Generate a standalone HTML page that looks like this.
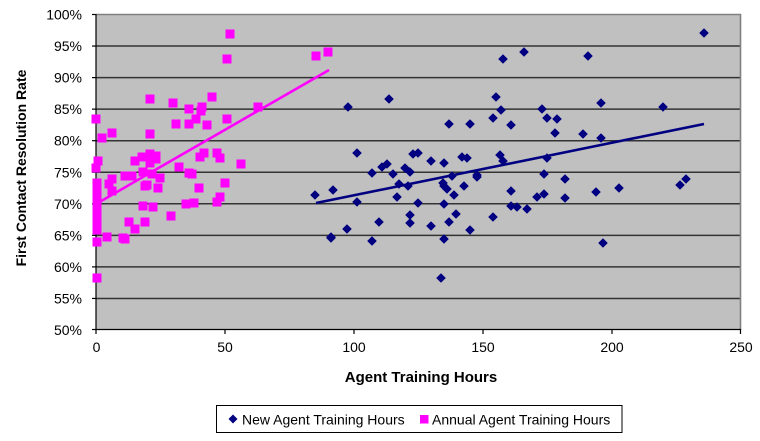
<!DOCTYPE html>
<html><head><meta charset="utf-8"><style>
html,body{margin:0;padding:0;background:#fff;}
svg{display:block;font-family:"Liberation Sans",Arial,sans-serif;}
</style></head><body>
<svg width="760" height="441" viewBox="0 0 760 441" xmlns="http://www.w3.org/2000/svg">
<defs>
<path id="d" d="M0,-4.8 L4.8,0 L0,4.8 L-4.8,0 Z" fill="#000080"/>
<rect id="s" x="-4.5" y="-4.5" width="9" height="9" fill="#FF00FF"/>
</defs>
<rect x="96" y="14.5" width="644.5" height="315.5" fill="#C0C0C0"/>
<g stroke="#333" stroke-width="1.5">
<line x1="96" x2="740" y1="46.05" y2="46.05"/>
<line x1="96" x2="740" y1="77.6" y2="77.6"/>
<line x1="96" x2="740" y1="109.15" y2="109.15"/>
<line x1="96" x2="740" y1="140.7" y2="140.7"/>
<line x1="96" x2="740" y1="172.25" y2="172.25"/>
<line x1="96" x2="740" y1="203.8" y2="203.8"/>
<line x1="96" x2="740" y1="235.35" y2="235.35"/>
<line x1="96" x2="740" y1="266.9" y2="266.9"/>
<line x1="96" x2="740" y1="298.45" y2="298.45"/>
</g>
<line x1="96" x2="741" y1="14.5" y2="14.5" stroke="#808080" stroke-width="1.6"/>
<line x1="740.5" x2="740.5" y1="14" y2="330" stroke="#808080" stroke-width="1.6"/>
<g stroke="#000" stroke-width="1.2">
<line x1="96" x2="96" y1="14" y2="330"/>
<line x1="96" x2="741" y1="329.5" y2="329.5"/>
<line x1="92" x2="96" y1="14.5" y2="14.5"/>
<line x1="92" x2="96" y1="46.05" y2="46.05"/>
<line x1="92" x2="96" y1="77.6" y2="77.6"/>
<line x1="92" x2="96" y1="109.15" y2="109.15"/>
<line x1="92" x2="96" y1="140.7" y2="140.7"/>
<line x1="92" x2="96" y1="172.25" y2="172.25"/>
<line x1="92" x2="96" y1="203.8" y2="203.8"/>
<line x1="92" x2="96" y1="235.35" y2="235.35"/>
<line x1="92" x2="96" y1="266.9" y2="266.9"/>
<line x1="92" x2="96" y1="298.45" y2="298.45"/>
<line x1="92" x2="96" y1="329.5" y2="329.5"/>
<line x1="96" x2="96" y1="329" y2="334"/>
<line x1="225" x2="225" y1="329" y2="334"/>
<line x1="354" x2="354" y1="329" y2="334"/>
<line x1="483" x2="483" y1="329" y2="334"/>
<line x1="612" x2="612" y1="329" y2="334"/>
<line x1="740.5" x2="740.5" y1="329" y2="334"/>
</g>
<g font-size="14" fill="#000" text-anchor="end">
<text x="82" y="19.5">100%</text>
<text x="82" y="51">95%</text>
<text x="82" y="82.6">90%</text>
<text x="82" y="114.2">85%</text>
<text x="82" y="145.7">80%</text>
<text x="82" y="177.3">75%</text>
<text x="82" y="208.8">70%</text>
<text x="82" y="240.4">65%</text>
<text x="82" y="271.9">60%</text>
<text x="82" y="303.5">55%</text>
<text x="82" y="335">50%</text>
</g>
<g font-size="14" fill="#000" text-anchor="middle">
<text x="96.5" y="352">0</text>
<text x="225" y="352">50</text>
<text x="354" y="352">100</text>
<text x="483" y="352">150</text>
<text x="612" y="352">200</text>
<text x="741" y="352">250</text>
</g>
<text x="421" y="382" font-size="15" font-weight="bold" text-anchor="middle">Agent Training Hours</text>
<text transform="translate(26,168) rotate(-90)" font-size="14" font-weight="bold" text-anchor="middle">First Contact Resolution Rate</text>

<g>
<use href="#d" x="704" y="33"/><use href="#d" x="503" y="59"/><use href="#d" x="524" y="52"/><use href="#d" x="588" y="56"/>
<use href="#d" x="389" y="99"/><use href="#d" x="348" y="107"/><use href="#d" x="496" y="97"/><use href="#d" x="501" y="110"/>
<use href="#d" x="493" y="118"/><use href="#d" x="511" y="125"/><use href="#d" x="449" y="124"/><use href="#d" x="470" y="124"/>
<use href="#d" x="542" y="109"/><use href="#d" x="547" y="118"/><use href="#d" x="557" y="119"/><use href="#d" x="555" y="133"/>
<use href="#d" x="583" y="134"/><use href="#d" x="601" y="103"/><use href="#d" x="601" y="138"/><use href="#d" x="663" y="107"/>
<use href="#d" x="357" y="153"/><use href="#d" x="372" y="173"/><use href="#d" x="382" y="167"/><use href="#d" x="387" y="164"/>
<use href="#d" x="393" y="174"/><use href="#d" x="405" y="168"/><use href="#d" x="410" y="172"/><use href="#d" x="413" y="154"/>
<use href="#d" x="418" y="153"/><use href="#d" x="431" y="161"/><use href="#d" x="444" y="163"/><use href="#d" x="452" y="176"/>
<use href="#d" x="462" y="157"/><use href="#d" x="467" y="158"/><use href="#d" x="477" y="175"/><use href="#d" x="477" y="177"/>
<use href="#d" x="500" y="155"/><use href="#d" x="503" y="161"/><use href="#d" x="547" y="158"/><use href="#d" x="544" y="174"/>
<use href="#d" x="565" y="179"/><use href="#d" x="680" y="185"/><use href="#d" x="686" y="179"/><use href="#d" x="315" y="195"/>
<use href="#d" x="333" y="190"/><use href="#d" x="399" y="184"/><use href="#d" x="408" y="186"/><use href="#d" x="397" y="197"/>
<use href="#d" x="443" y="183"/><use href="#d" x="444" y="186"/><use href="#d" x="447" y="189"/><use href="#d" x="454" y="195"/>
<use href="#d" x="464" y="186"/><use href="#d" x="511" y="191"/><use href="#d" x="537" y="197"/><use href="#d" x="544" y="194"/>
<use href="#d" x="565" y="198"/><use href="#d" x="596" y="192"/><use href="#d" x="619" y="188"/><use href="#d" x="357" y="202"/>
<use href="#d" x="331" y="237"/><use href="#d" x="331" y="238"/><use href="#d" x="347" y="229"/><use href="#d" x="379" y="222"/>
<use href="#d" x="372" y="241"/><use href="#d" x="418" y="203"/><use href="#d" x="410" y="215"/><use href="#d" x="410" y="223"/>
<use href="#d" x="431" y="226"/><use href="#d" x="444" y="204"/><use href="#d" x="456" y="214"/><use href="#d" x="449" y="222"/>
<use href="#d" x="444" y="239"/><use href="#d" x="470" y="230"/><use href="#d" x="441" y="278"/><use href="#d" x="493" y="217"/>
<use href="#d" x="511" y="206"/><use href="#d" x="517" y="207"/><use href="#d" x="527" y="209"/><use href="#d" x="603" y="243"/>
</g>
<line x1="316" y1="203" x2="704" y2="124" stroke="#000080" stroke-width="2.6"/>

<g>
<use href="#s" x="230" y="34"/><use href="#s" x="227" y="59"/><use href="#s" x="96" y="119"/><use href="#s" x="102" y="138"/>
<use href="#s" x="112" y="133"/><use href="#s" x="150" y="99"/><use href="#s" x="173" y="103"/><use href="#s" x="176" y="124"/>
<use href="#s" x="189" y="109"/><use href="#s" x="189" y="124"/><use href="#s" x="202" y="107"/><use href="#s" x="201" y="111"/>
<use href="#s" x="196" y="119"/><use href="#s" x="207" y="125"/><use href="#s" x="212" y="97"/><use href="#s" x="227" y="119"/>
<use href="#s" x="258" y="107"/><use href="#s" x="150" y="134"/><use href="#s" x="98" y="161"/><use href="#s" x="96" y="168"/>
<use href="#s" x="135" y="161"/><use href="#s" x="142" y="157"/><use href="#s" x="150" y="154"/><use href="#s" x="156" y="156"/>
<use href="#s" x="156" y="159"/><use href="#s" x="150" y="163"/><use href="#s" x="125" y="176"/><use href="#s" x="132" y="176"/>
<use href="#s" x="143" y="172"/><use href="#s" x="152" y="174"/><use href="#s" x="160" y="178"/><use href="#s" x="179" y="167"/>
<use href="#s" x="189" y="173"/><use href="#s" x="192" y="174"/><use href="#s" x="204" y="153"/><use href="#s" x="200" y="157"/>
<use href="#s" x="217" y="153"/><use href="#s" x="220" y="158"/><use href="#s" x="241" y="164"/><use href="#s" x="112" y="179"/>
<use href="#s" x="109" y="184"/><use href="#s" x="112" y="191"/><use href="#s" x="147" y="185"/><use href="#s" x="145" y="186"/>
<use href="#s" x="158" y="188"/><use href="#s" x="199" y="188"/><use href="#s" x="225" y="183"/><use href="#s" x="220" y="197"/>
<use href="#s" x="217" y="202"/><use href="#s" x="143" y="206"/><use href="#s" x="153" y="207"/><use href="#s" x="171" y="216"/>
<use href="#s" x="186" y="204"/><use href="#s" x="194" y="203"/><use href="#s" x="129" y="222"/><use href="#s" x="145" y="222"/>
<use href="#s" x="135" y="229"/><use href="#s" x="107" y="237"/><use href="#s" x="123" y="238"/><use href="#s" x="125" y="239"/>
<use href="#s" x="97" y="242"/><use href="#s" x="97" y="278"/><use href="#s" x="316" y="56"/><use href="#s" x="328" y="52"/>
<use href="#s" x="97" y="183"/><use href="#s" x="97" y="187"/><use href="#s" x="97" y="191"/><use href="#s" x="97" y="195"/>
<use href="#s" x="97" y="199"/><use href="#s" x="97" y="203"/><use href="#s" x="97" y="207"/><use href="#s" x="97" y="211"/>
<use href="#s" x="97" y="215"/><use href="#s" x="97" y="219"/><use href="#s" x="97" y="223"/><use href="#s" x="97" y="227"/>
<use href="#s" x="97" y="230"/>
</g>
<line x1="96" y1="204" x2="329" y2="70" stroke="#FF00FF" stroke-width="2.6"/>

<rect x="216.5" y="405.5" width="405.5" height="27" fill="#fff" stroke="#000" stroke-width="1"/>
<path d="M233,414.5 L237.5,419 L233,423.5 L228.5,419 Z" fill="#000080"/>
<text x="242" y="424.5" font-size="14">New Agent Training Hours</text>
<rect x="420" y="415" width="8.5" height="8.5" fill="#FF00FF"/>
<text x="432" y="424.5" font-size="14">Annual Agent Training Hours</text>
</svg>
</body></html>
